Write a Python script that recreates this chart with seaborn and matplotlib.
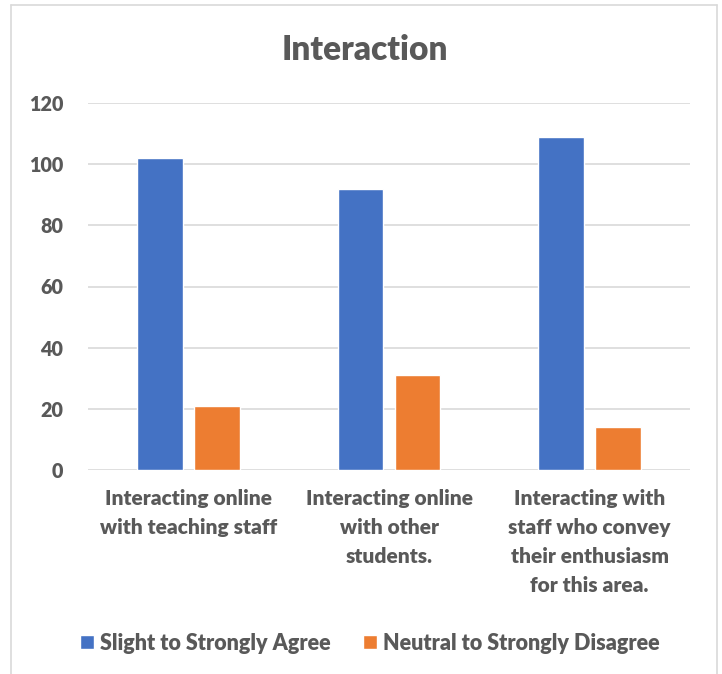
import matplotlib
matplotlib.use("Agg")
import matplotlib.pyplot as plt
from matplotlib.lines import Line2D
import seaborn as sns
import pandas as pd

categories = ["Interacting online\nwith teaching staff",
              "Interacting online\nwith other\nstudents.",
              "Interacting with\nstaff who convey\ntheir enthusiasm\nfor this area."]
series_names = ["Slight to Strongly Agree", "Neutral to Strongly Disagree"]
agree = [102, 92, 109]
disagree = [21, 31, 14]
yticks = [0, 20, 40, 60, 80, 100, 120]

df = pd.DataFrame({
    "cat": categories * 2,
    "series": [series_names[0]] * 3 + [series_names[1]] * 3,
    "value": agree + disagree,
})

sns.set_theme(style="white")
plt.rcParams['font.family'] = 'Lato'
W = "heavy"
txt = "#595959"

fig = plt.figure(figsize=(7.22, 6.74), dpi=100)
ax = fig.add_axes([88/722, 204/674, 602/722, 367/674])

sns.barplot(data=df, x="cat", y="value", hue="series",
            palette=["#4472C4", "#ED7D31"], width=0.57, gap=0.2,
            saturation=1, ax=ax, legend=True, zorder=3)

ax.set_ylim(0, 120)
ax.set_xlim(-0.5, 2.5)
ax.set_yticks(yticks)
ax.set_yticklabels([str(t) for t in yticks])
ax.yaxis.grid(True, color="#d9d9d9", linewidth=1.2, zorder=0)
ax.set_axisbelow(True)
for s in ax.spines.values():
    s.set_visible(False)
ax.tick_params(axis="both", length=0, colors=txt)
ax.tick_params(axis="y", pad=18)
ax.tick_params(axis="x", pad=14)
for lab in ax.get_yticklabels():
    lab.set_fontsize(14.2); lab.set_fontweight(W); lab.set_color(txt)
for lab in ax.get_xticklabels():
    lab.set_fontsize(15); lab.set_fontweight(W); lab.set_color(txt)
    lab.set_linespacing(1.62)
    lab.set_verticalalignment("top")
ax.set_xlabel("")
ax.set_ylabel("")

fig.text(365/722, 1 - 60/674, "Interaction", ha="center", va="baseline",
         fontsize=24, fontweight=W, color=txt)

handles, labels = ax.get_legend_handles_labels()
ax.legend_.remove()
leg = fig.legend(handles, labels, loc="center", bbox_to_anchor=(369.5/722, 31/674),
                 ncol=2, frameon=False, handlelength=0.65, handleheight=0.65,
                 handletextpad=0.28, columnspacing=1.5,
                 prop={"family": "Lato", "weight": W, "size": 15.5})
for t in leg.get_texts():
    t.set_color(txt)

# outer chart border (left, top, right)
bc = "#d9d9d9"
fig.add_artist(Line2D([11/722, 11/722], [0, 1 - 5/674], color=bc, lw=1.2, transform=fig.transFigure))
fig.add_artist(Line2D([717/722, 717/722], [0, 1 - 5/674], color=bc, lw=1.2, transform=fig.transFigure))
fig.add_artist(Line2D([11/722, 717/722], [1 - 5/674, 1 - 5/674], color=bc, lw=1.2, transform=fig.transFigure))

fig.savefig("out.png", dpi=100)
